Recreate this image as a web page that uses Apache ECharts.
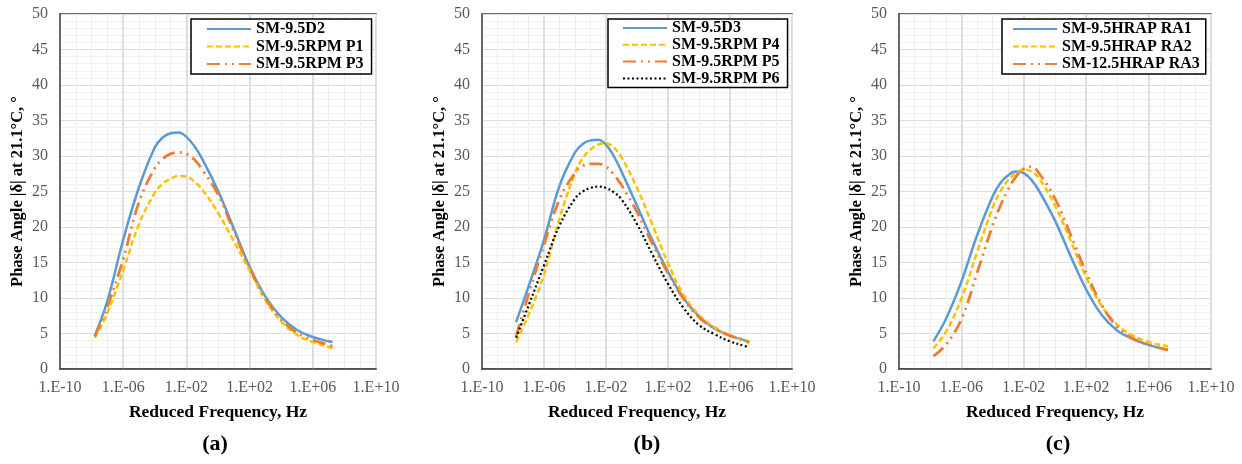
<!DOCTYPE html>
<html><head><meta charset="utf-8">
<script src="https://cdn.jsdelivr.net/npm/echarts@6/dist/echarts.min.js"></script>
<style>html,body{margin:0;padding:0;background:#fff}#c{width:1242px;height:464px}</style>
</head><body><div id="c"></div>
<script>
// x positions: log10 of reduced frequency (Hz)
const logFreq = [-7.8, -7, -6, -5, -4, -3.5, -3, -2.5, -2, -1.5, -1, 0, 1, 2, 3, 4, 5, 6, 7, 7.25];
// x tick exponents shown as 1.E±xx
const xTickExps = [-10, -6, -2, 2, 6, 10];
const panelLabels = ['(a)', '(b)', '(c)'];

// Panel (a)
const namesA = ['SM-9.5D2', 'SM-9.5RPM P1', 'SM-9.5RPM P3'];
const a_D2 = [4.7, 9.6, 18.2, 25.6, 31.2, 32.6, 33.2, 33.3, 32.7, 31.4, 29.6, 25.1, 19.8, 14.4, 10.2, 7.3, 5.5, 4.5, 3.9, 3.8];
const a_P1 = [4.4, 7.9, 13.9, 20.4, 24.8, 26.1, 26.8, 27.2, 27.1, 26.4, 25.3, 22.0, 18.0, 13.9, 9.7, 6.7, 4.8, 3.8, 3.1, 2.9];
const a_P3 = [4.6, 8.8, 15.5, 23.5, 28.3, 29.6, 30.3, 30.5, 30.3, 29.5, 28.1, 24.6, 19.4, 14.3, 10.0, 7.0, 5.1, 4.1, 3.4, 3.2];

// Panel (b)
const namesB = ['SM-9.5D3', 'SM-9.5RPM P4', 'SM-9.5RPM P5', 'SM-9.5RPM P6'];
const b_D3 = [6.6, 11.6, 18.2, 25.8, 30.5, 31.7, 32.2, 32.3, 31.6, 30.0, 27.8, 23.0, 18.1, 13.7, 10.0, 7.4, 5.7, 4.7, 4.0, 3.8];
const b_P4 = [3.8, 7.6, 13.3, 21.2, 27.6, 29.7, 30.9, 31.6, 31.8, 31.2, 29.8, 25.5, 20.3, 14.9, 10.5, 7.6, 5.9, 4.7, 3.9, 3.6];
const b_P5 = [4.6, 10.5, 17.5, 23.9, 27.6, 28.6, 28.9, 28.9, 28.5, 27.4, 25.9, 22.1, 17.6, 13.5, 9.9, 7.3, 5.7, 4.7, 4.0, 3.7];
const b_P6 = [4.4, 8.9, 14.6, 20.2, 24.0, 25.0, 25.5, 25.7, 25.5, 24.9, 23.9, 20.4, 16.1, 12.0, 8.6, 6.2, 4.9, 3.9, 3.2, 3.0];

// Panel (c)
const namesC = ['SM-9.5HRAP RA1', 'SM-9.5HRAP RA2', 'SM-12.5HRAP RA3'];
const c_RA1 = [3.9, 7.0, 12.3, 18.8, 24.3, 26.2, 27.3, 27.8, 27.6, 26.6, 25.0, 20.9, 15.9, 11.2, 7.6, 5.4, 4.2, 3.4, 2.8, 2.7];
const c_RA2 = [2.9, 5.2, 9.9, 16.4, 22.7, 25.0, 26.6, 27.6, 28.1, 27.8, 26.8, 23.0, 18.1, 12.9, 8.9, 6.2, 4.7, 3.8, 3.3, 3.2];
const c_RA3 = [1.8, 3.4, 7.0, 13.5, 20.2, 23.0, 25.3, 27.1, 28.2, 28.5, 27.5, 24.0, 18.9, 13.6, 9.0, 5.9, 4.3, 3.4, 2.8, 2.7];

const FONT = "'Liberation Serif', 'Times New Roman', serif";
const BLUE = '#5B9BD5', YELLOW = '#FFC000', ORANGE = '#ED7D31', BLACK = '#000000';
const STYLE = {
  solid: { type: 'solid', width: 2.5 },
  dash: { type: [6, 3], width: 2.5 },
  ldd: { type: [13, 5, 2, 5, 2, 5], width: 2.8 },
  dot: { type: [2, 2.5], width: 2.2 }
};

const grids = [
  { left: 60, top: 14, width: 316, height: 355 },
  { left: 482, top: 14, width: 310, height: 355 },
  { left: 899, top: 14, width: 312, height: 355 }
];
const legendPos = [
  { left: 191, top: 19, padding: [2, 8, 2, 15], itemGap: 1.5 },
  { left: 608, top: 19, padding: [1, 8, 1, 14], itemGap: 0.8 },
  { left: 1002, top: 19, padding: [2, 6, 2, 10], itemGap: 1.5 }
];
const titleX = [210, 642, 1053];

function fmtX(v) {
  const e = Math.round(v);
  const s = e < 0 ? '-' : '+';
  const a = Math.abs(e);
  return '1.E' + s + (a < 10 ? '0' + a : '' + a);
}

const xAxes = grids.map((g, i) => ({
  type: 'value', gridIndex: i, min: -10, max: 10, interval: 4,
  name: 'Reduced Frequency, Hz', nameLocation: 'middle', nameGap: 34,
  nameTextStyle: { fontFamily: FONT, fontSize: 17.5, fontWeight: 'bold', color: '#000' },
  axisLine: { show: true, onZero: false, lineStyle: { color: '#404040', width: 1.5 } },
  axisTick: { show: false },
  axisLabel: { formatter: fmtX, fontFamily: FONT, fontSize: 16, color: '#595959', margin: 11 },
  splitLine: { show: true, lineStyle: { color: '#dedede', width: 2 } },
  minorTick: { show: false, splitNumber: 4 },
  minorSplitLine: { show: true, lineStyle: { color: '#efefef', width: 1 } }
}));
const yAxes = grids.map((g, i) => ({
  type: 'value', gridIndex: i, min: 0, max: 50, interval: 5,
  name: 'Phase Angle |δ| at 21.1°C, °', nameLocation: 'middle', nameGap: 34,
  nameTextStyle: { fontFamily: FONT, fontSize: 16.5, fontWeight: 'bold', color: '#000' },
  axisLine: { show: true, onZero: false, lineStyle: { color: '#404040', width: 1.5 } },
  axisTick: { show: false },
  axisLabel: { fontFamily: FONT, fontSize: 16, color: '#595959', margin: 12 },
  splitLine: { show: true, lineStyle: { color: '#dcdcdc', width: 1 } },
  minorTick: { show: false, splitNumber: 5 },
  minorSplitLine: { show: true, lineStyle: { color: '#f1f1f1', width: 1 } }
}));

function mk(name, vals, idx, color, style, z) {
  return {
    type: 'line', name: name, xAxisIndex: idx, yAxisIndex: idx,
    data: logFreq.map((x, k) => [x, vals[k]]),
    smooth: 0.4, symbol: 'none', showSymbol: false, z: z || 2,
    itemStyle: { color: color },
    lineStyle: Object.assign({ color: color, cap: 'butt' }, style)
  };
}

const series = [
  mk(namesA[0], a_D2, 0, BLUE, STYLE.solid),
  mk(namesA[1], a_P1, 0, YELLOW, STYLE.dash),
  mk(namesA[2], a_P3, 0, ORANGE, STYLE.ldd),
  mk(namesB[0], b_D3, 1, BLUE, STYLE.solid),
  mk(namesB[1], b_P4, 1, YELLOW, STYLE.dash),
  mk(namesB[2], b_P5, 1, ORANGE, STYLE.ldd),
  mk(namesB[3], b_P6, 1, BLACK, STYLE.dot),
  mk(namesC[0], c_RA1, 2, BLUE, STYLE.solid),
  mk(namesC[1], c_RA2, 2, YELLOW, STYLE.dash),
  mk(namesC[2], c_RA3, 2, ORANGE, STYLE.ldd)
];

const legendNames = [namesA, namesB, namesC];
const legends = legendPos.map((p, i) => ({
  data: legendNames[i], orient: 'vertical', left: p.left, top: p.top,
  padding: p.padding, itemGap: p.itemGap, itemWidth: 44, itemHeight: 12,
  align: 'left', selectedMode: false,
  itemStyle: { color: 'transparent', borderWidth: 0, opacity: 0 },
  backgroundColor: '#fff', borderColor: '#000', borderWidth: 1.5, borderRadius: 0,
  textStyle: { fontFamily: FONT, fontSize: 16, fontWeight: 'bold', color: '#000', padding: [0, 0, 0, 0] }
}));

const titles = panelLabels.map((t, i) => ({
  text: t, left: titleX[i], top: 428, textAlign: 'center',
  textStyle: { fontFamily: FONT, fontSize: 22, fontWeight: 'bold', color: '#000' }
}));

const chart = echarts.init(document.getElementById('c'), null, { renderer: 'canvas' });
chart.setOption({
  animation: false,
  backgroundColor: '#fff',
  title: titles,
  grid: grids.map(g => Object.assign({ show: true, borderColor: '#404040', borderWidth: 1.5, backgroundColor: '#fff', containLabel: false }, g)),
  xAxis: xAxes,
  yAxis: yAxes,
  legend: legends,
  series: series
});
</script></body></html>
